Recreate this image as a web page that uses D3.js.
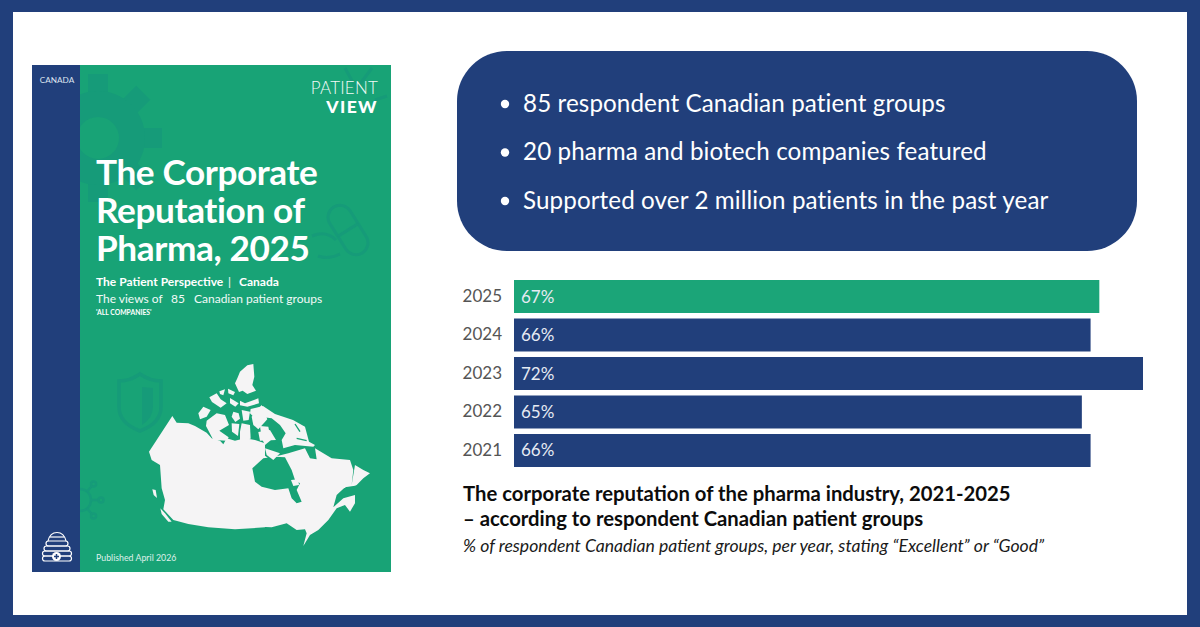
<!DOCTYPE html>
<html>
<head>
<meta charset="utf-8">
<script src="https://cdn.jsdelivr.net/npm/d3@7"></script>
<style>
html, body { margin: 0; padding: 0; background: #fff; }
text { font-family: Lato, "Open Sans", sans-serif; }
</style>
</head>
<body>
<svg id="chart" width="1200" height="627"></svg>
<script>
var years = ["2025", "2024", "2023", "2022", "2021"];
var values = [67, 66, 72, 65, 66];
var bullets = [
    "85 respondent Canadian patient groups",
    "20 pharma and biotech companies featured",
    "Supported over 2 million patients in the past year"
];
var coverTitle = ["The Corporate", "Reputation of", "Pharma, 2025"];
var captionLines = [
    "The corporate reputation of the pharma industry, 2021-2025",
    "\u2013 according to respondent Canadian patient groups"
];
var captionNote = "% of respondent Canadian patient groups, per year, stating \u201cExcellent\u201d or \u201cGood\u201d";

var NAVY = "#213f7b", GREEN = "#18a376", GREEN_BAR = "#1ba578", ICON = "#169b79", MAP = "#f5f4f5";

var svg = d3.select("#chart");

function label(parent, x, y, str, size, fill, weight, style, anchor) {
    return parent.append("text").attr("x", x).attr("y", y).text(str)
        .attr("font-size", size).attr("fill", fill)
        .attr("font-weight", weight || 400).attr("font-style", style || "normal")
        .attr("text-anchor", anchor || "start");
}

// frame
svg.append("rect").attr("width", 1200).attr("height", 627).attr("fill", NAVY);
svg.append("rect").attr("x", 13).attr("y", 12).attr("width", 1174).attr("height", 603).attr("fill", "#fff");

// report cover
var cover = svg.append("g");
cover.append("rect").attr("x", 32).attr("y", 65).attr("width", 359).attr("height", 507).attr("fill", GREEN);

// faint background icons
var icons = cover.append("g").attr("fill", "none").attr("stroke", ICON);
var gear = icons.append("g").attr("transform", "translate(98,138)");
gear.selectAll("rect").data(d3.range(8)).join("rect")
    .attr("x", -10).attr("y", -64).attr("width", 20).attr("height", 24)
    .attr("fill", ICON).attr("stroke", "none")
    .attr("transform", function (d) { return "rotate(" + (d * 45) + ")"; });
gear.append("circle").attr("r", 34).attr("stroke-width", 26);
var pill = icons.append("g").attr("transform", "translate(348,230) rotate(-32)").attr("stroke-width", 3);
pill.append("rect").attr("x", -12).attr("y", -27).attr("width", 24).attr("height", 54).attr("rx", 12);
pill.append("line").attr("x1", -12).attr("x2", 12);
icons.append("path").attr("stroke-width", 3).attr("d", "M312,236 q14,-6 24,4 M340,254 q-12,6 -22,2");
icons.append("path").attr("stroke-width", 3.5)
    .attr("d", "M140,374 q-10,7 -21,7 l0,26 q0,16 21,24 q21,-8 21,-24 l0,-26 q-11,0 -21,-7 z");
icons.append("path").attr("fill", ICON).attr("stroke", "none")
    .attr("d", "M142,387 l11,1 l0,18 q0,12 -11,19 z");
var virus = icons.append("g").attr("transform", "translate(80,500)").attr("stroke-width", 2.5);
virus.append("circle").attr("r", 11);
virus.selectAll("line").data([-50, 0, 50]).join("line")
    .attr("x1", 11).attr("x2", 18).attr("transform", function (d) { return "rotate(" + d + ")"; });
virus.selectAll("circle.tip").data([-50, 0, 50]).join("circle").attr("class", "tip")
    .attr("r", 2.5)
    .attr("cx", function (d) { return 21 * Math.cos(d * Math.PI / 180); })
    .attr("cy", function (d) { return 21 * Math.sin(d * Math.PI / 180); });
icons.append("path").attr("stroke-width", 3).attr("d", "M345,68 l12,22 M372,68 l-18,24 M375,100 l12,-4");

// spine
cover.append("rect").attr("x", 32).attr("y", 65).attr("width", 48).attr("height", 507).attr("fill", NAVY);
label(cover, 57, 83, "CANADA", 8.2, "#dfe5f0", 400, null, "middle");

label(cover, 378, 94, "PATIENT", 17, "#f2faf7", 300, null, "end").attr("letter-spacing", 0.2);
label(cover, 378, 113, "VIEW", 17.5, "#fff", 900, null, "end").attr("letter-spacing", 1.4);

cover.selectAll("text.cover-title").data(coverTitle).join("text").attr("class", "cover-title")
    .attr("x", 96).attr("y", function (d, i) { return 185 + i * 38; })
    .attr("font-size", 35.2).attr("font-weight", 700).attr("fill", "#fff").attr("letter-spacing", -0.4)
    .text(function (d) { return d; });

label(cover, 96, 286, "The Patient Perspective", 12, "#fff", 700);
label(cover, 228, 286, "|", 12, "#fff", 400);
label(cover, 239, 286, "Canada", 12, "#fff", 700);
label(cover, 96, 303, "The views of", 12, "#f2faf7", 400);
label(cover, 171, 303, "85", 12, "#f2faf7", 400);
label(cover, 194, 303, "Canadian patient groups", 12, "#f2faf7", 400);
label(cover, 96, 314.5, "'ALL COMPANIES'", 6.8, "#fff", 700);
label(cover, 96, 561, "Published April 2026", 8.8, "#dff0ea", 400);

// hive logo
var hive = cover.append("g").attr("fill", "none").attr("stroke", "#fff").attr("stroke-width", 1.2);
hive.append("path").attr("d", "M48,541 Q50,532.5 57,532.5 Q64,532.5 66,541");
hive.append("path").attr("d", "M50,537 L64,537");
hive.append("rect").attr("x", 46).attr("y", 541).attr("width", 22).attr("height", 5).attr("rx", 2.5);
hive.append("rect").attr("x", 44).attr("y", 546).attr("width", 26).attr("height", 5).attr("rx", 2.5);
hive.append("rect").attr("x", 42.5).attr("y", 551).attr("width", 29).attr("height", 5).attr("rx", 2.5);
hive.append("rect").attr("x", 42.5).attr("y", 556).attr("width", 29).attr("height", 5).attr("rx", 2.5);
cover.append("circle").attr("cx", 56.5).attr("cy", 556.5).attr("r", 4.5).attr("fill", "#fff");
cover.append("path").attr("stroke", NAVY).attr("stroke-width", 1.5).attr("d", "M54,556.5 L59,556.5 M56.5,554 L56.5,559");

var arctic = cover.append("g").attr("transform", "translate(190,360) scale(0.3333)").attr("fill", MAP);
arctic.append("path").attr("d", "M150,35 L172,16 L190,12 L193,50 L187,75 L198,92 L172,102 L158,92 L147,96 L135,70 L142,55 Z");
arctic.append("path").attr("d", "M58,112 L80,100 L92,118 L110,130 L92,143 L66,126 Z");
arctic.append("path").attr("d", "M88,94 L105,88 L100,106 L90,102 Z");
arctic.append("path").attr("d", "M114,86 L135,96 L130,106 L115,100 Z");
arctic.append("path").attr("d", "M120,114 L146,130 L136,140 L120,130 Z");
arctic.append("path").attr("d", "M150,122 L165,130 L205,115 L207,130 L172,140 L150,136 Z");
arctic.append("path").attr("d", "M40,140 L62,150 L50,170 L30,178 L25,160 Z");
arctic.append("path").attr("d", "M50,182 L80,160 L105,165 L117,195 L88,212 L116,232 L110,242 L70,240 L48,198 Z");
arctic.append("path").attr("d", "M130,155 L146,160 L150,176 L136,186 L125,170 Z");
arctic.append("path").attr("d", "M155,150 L180,155 L176,180 L160,182 Z");
arctic.append("path").attr("d", "M155,190 L180,195 L182,236 L150,242 L150,215 Z");
arctic.append("path").attr("d", "M125,190 L148,192 L144,228 L126,215 Z");
arctic.append("path").attr("d", "M185,170 L215,135 L232,178 L205,208 L190,195 Z");
arctic.append("path").attr("d", "M205,216 L240,210 L258,240 L210,242 Z");

var west = cover.append("g").attr("transform", "translate(145,410) scale(0.3333)").attr("fill", MAP);
west.append("path").attr("d",
    "M82,18 L95,38 L130,40 L150,48 L185,68 L200,85 L225,92 L235,103 L245,85 L270,92 L300,85 L330,90 L360,100 " +
    "L360,352 L270,358 L190,352 L130,342 L85,330 L55,298 L60,270 L50,235 L45,165 L20,150 L12,125 Z");
west.append("path").attr("d", "M22,238 L32,240 L36,264 L26,255 Z");
west.append("path").attr("d", "M46,295 L60,310 L80,335 L70,335 L50,312 Z");

var east = cover.append("g").attr("transform", "translate(255,420) scale(0.3333)").attr("fill", MAP);
east.append("path").attr("d",
    "M-10,110 L20,100 L40,115 L100,100 L150,85 L165,115 L185,118 L180,85 L230,115 L285,120 L295,150 L290,195 L300,135 L325,150 L345,160 " +
    "L325,175 L305,195 L300,197 L270,202 L245,225 L235,262 L265,235 L300,225 L300,250 L285,275 L270,255 L245,265 " +
    "L220,300 L190,330 L165,345 L145,378 L155,340 L150,328 L125,330 L95,310 L50,322 L15,320 L-10,305 Z");
east.append("path").attr("fill", GREEN).attr("d",
    "M-8,145 L25,115 L60,110 L90,112 L110,150 L120,180 L135,190 L125,210 L140,245 L125,250 L110,235 L100,205 L60,210 L20,200 L0,185 Z");
east.append("path").attr("d", "M108,180 L130,178 L132,195 L115,198 Z");
east.append("path").attr("d",
    "M-13,-33 L24,-42 L60,-18 L114,0 L150,20 L162,65 L180,75 L175,80 L120,75 L85,85 L80,60 L92,40 L75,15 L50,-5 L15,-10 L0,-5 L-15,-20 Z");
east.append("path").attr("d", "M15,18 L40,20 L48,60 L30,75 L20,55 Z");
east.append("path").attr("d", "M30,85 L75,100 L55,120 L35,105 Z");
east.append("path").attr("d", "M255,200 L275,195 L270,204 L258,205 Z");
east.append("path").attr("fill", "none").attr("stroke", GREEN).attr("stroke-width", 4)
    .attr("d", "M120,12 L135,35 M60,80 L75,70 M125,55 L155,62");

// info box
var box = svg.append("g");
box.append("rect").attr("x", 457).attr("y", 51).attr("width", 680).attr("height", 200).attr("rx", 50).attr("fill", NAVY);
box.selectAll("circle").data(bullets).join("circle")
    .attr("cx", 505).attr("cy", function (d, i) { return 104 + i * 48.5; }).attr("r", 4.2).attr("fill", "#fff");
box.selectAll("text").data(bullets).join("text")
    .attr("x", 523).attr("y", function (d, i) { return 111.5 + i * 48.5; })
    .attr("font-size", 24.2).attr("fill", "#fff").attr("letter-spacing", 0.1)
    .text(function (d) { return d; });

// bar chart
var x = d3.scaleLinear().domain([0, 72]).range([514, 1143]);
var y = d3.scaleBand().domain(years).range([274.5, 472.5]).padding(0.143);
var rows = years.map(function (year, i) { return { year: year, value: values[i] }; });

var chart = svg.append("g");
chart.selectAll("rect").data(rows).join("rect")
    .attr("x", x(0)).attr("y", function (d) { return y(d.year); })
    .attr("width", function (d) { return x(d.value) - x(0); }).attr("height", y.bandwidth())
    .attr("fill", function (d) { return d.year === "2025" ? GREEN_BAR : NAVY; });
chart.selectAll("text.val").data(rows).join("text").attr("class", "val")
    .attr("x", 521).attr("y", function (d) { return y(d.year) + y.bandwidth() / 2 + 6; })
    .attr("font-size", 17).attr("fill", "#e6ebf3")
    .text(function (d) { return d.value + "%"; });

var axis = chart.append("g").attr("transform", "translate(" + (x(0) - 12) + ",0)")
    .call(d3.axisLeft(y).tickSize(0).tickPadding(0));
axis.select(".domain").remove();
axis.selectAll("text").attr("font-size", 17).attr("fill", "#555").attr("font-family", "Lato");

// caption
var caption = svg.append("g");
caption.selectAll("text.cap").data(captionLines).join("text").attr("class", "cap")
    .attr("x", 463).attr("y", function (d, i) { return 501 + i * 25; })
    .attr("font-size", 20.3).attr("font-weight", 700).attr("fill", "#0c0c0c")
    .text(function (d) { return d; });
label(caption, 463, 552, captionNote, 17.6, "#1a1a1a", 400, "italic");
</script>
</body>
</html>
